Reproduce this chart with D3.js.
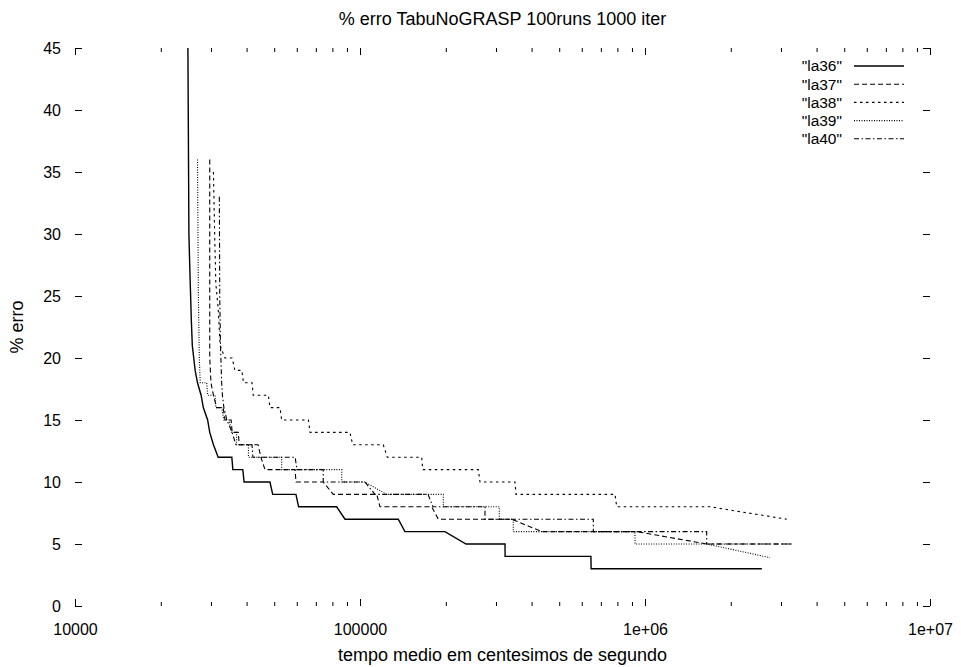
<!DOCTYPE html>
<html>
<head>
<meta charset="utf-8">
<script src="https://cdn.jsdelivr.net/npm/d3@7"></script>
<style>
body { margin: 0; background: #fff; }
svg text { font-family: "Liberation Sans", Arial, Helvetica, sans-serif; }
</style>
</head>
<body>
<div id="chart"></div>
<script>
// average time (centesimos de segundo) vs % erro
var la36 = [[24900,45],[25100,30],[25300,27],[25600,23],[25800,21],[26400,19],[26900,18],[27700,17],[28200,16],[29200,15],[29700,14],[30600,13],[31800,12],[35500,12],[35800,11],[38800,11],[39200,10],[48300,10],[49400,9],[59600,9],[60900,8],[82800,8],[88600,7],[136200,7],[143800,6],[198700,6],[235500,5],[322700,5],[323000,4],[646000,4],[647000,3],[2570000,3]];
var la37 = [[29700,36],[29700,20],[30000,18],[30600,17],[31400,16],[33100,16],[33600,15],[35300,15],[35600,14],[37400,14],[37700,13],[43900,13],[44900,12],[46400,11],[59200,11],[59600,10],[74300,10],[80600,9],[114500,9],[117500,8],[178500,8],[188300,7],[340600,7],[434000,6],[935000,6],[1646000,5],[3272000,5]];
var la38 = [[30600,35],[30900,30],[31200,26],[31800,24],[32300,21],[33600,20],[35600,20],[36400,19],[38500,19],[39000,18],[41800,18],[42200,17],[47700,17],[48300,16],[52400,16],[53100,15],[65900,15],[66800,14],[92200,14],[94300,13],[120700,13],[124700,12],[164600,12],[166000,11],[260100,11],[263700,10],[349800,10],[352700,9],[784800,9],[795600,8],[1690000,8],[3142000,7]];
var la39 = [[26900,36],[27100,25],[27300,20],[27500,18],[29000,18],[29200,17],[31000,17],[31200,16],[32700,16],[33300,15],[34700,15],[35500,14],[36900,14],[36900,13],[40600,13],[40600,12],[53100,12],[53100,11],[86300,11],[86300,10],[104100,10],[124100,9],[196000,9],[196000,8],[308200,8],[308200,7],[345000,7],[345000,6],[922400,6],[922400,5],[1646000,5],[2746000,3.9]];
var la40 = [[32100,33],[32200,25],[32400,21],[32700,18],[32900,17],[33300,16],[34100,15],[35600,14],[36700,13],[41800,13],[42100,12],[59200,12],[60100,11],[74300,11],[74300,10],[104100,10],[112900,9],[173200,9],[180300,8],[274500,8],[274500,7],[658600,7],[658600,6],[1646000,6],[1646000,5],[3272000,5]];

var seriesNames = ['"la36"', '"la37"', '"la38"', '"la39"', '"la40"'];
var seriesData = [la36, la37, la38, la39, la40];
var dashes = [null, "5,3", "2.5,3.5", "1,1.5", "5,2.5,1.5,2.5"];

var xMajorTicks = [10000, 100000, 1000000, 10000000];
var xTickLabels = ["10000", "100000", "1e+06", "1e+07"];
var yTicks = [0, 5, 10, 15, 20, 25, 30, 35, 40, 45];

var width = 961, height = 667;
var margin = {top: 48, right: 31, bottom: 61, left: 75};
var w = width - margin.left - margin.right;
var h = height - margin.top - margin.bottom;
var tickFont = 16, titleFont = 18, legendFont = 15.5;

var svg = d3.select("#chart")
  .append("svg")
  .attr("width", width)
  .attr("height", height);

var g = svg.append("g")
  .attr("transform", "translate(" + margin.left + "," + margin.top + ")");

var x = d3.scaleLog().domain([10000, 10000000]).range([0, w]);
var y = d3.scaleLinear().domain([0, 45]).range([h, 0]);

// minor ticks 2..9 in each decade
var xMinor = [];
[10000, 100000, 1000000].forEach(function(d) {
  for (var k = 2; k <= 9; k++) xMinor.push(d * k);
});

function styleAxis(sel) {
  sel.select(".domain").remove();
  sel.attr("font-size", tickFont).attr("font-family", null);
  sel.selectAll("text").attr("fill", "#000");
}

// bottom
g.append("g")
  .attr("transform", "translate(0," + h + ")")
  .call(d3.axisBottom(x).tickValues(xMajorTicks).tickFormat(function(d, i) { return xTickLabels[i]; })
    .tickSize(-7).tickPadding(18))
  .call(styleAxis);
g.append("g")
  .attr("transform", "translate(0," + h + ")")
  .call(d3.axisBottom(x).tickValues(xMinor).tickFormat("").tickSize(-4))
  .call(styleAxis);
// top (mirror)
g.append("g")
  .call(d3.axisTop(x).tickValues(xMajorTicks).tickFormat("").tickSize(-7))
  .call(styleAxis);
g.append("g")
  .call(d3.axisTop(x).tickValues(xMinor).tickFormat("").tickSize(-4))
  .call(styleAxis);
// left
g.append("g")
  .call(d3.axisLeft(y).tickValues(yTicks).tickSize(-7).tickPadding(14))
  .call(styleAxis);
// right (mirror)
g.append("g")
  .attr("transform", "translate(" + w + ",0)")
  .call(d3.axisRight(y).tickValues(yTicks).tickFormat("").tickSize(-7))
  .call(styleAxis);

// curves
var line = d3.line()
  .x(function(d) { return x(d[0]); })
  .y(function(d) { return y(d[1]); });

seriesData.forEach(function(data, i) {
  g.append("path")
    .datum(data)
    .attr("fill", "none")
    .attr("stroke", "#000")
    .attr("stroke-width", i === 0 ? 1.4 : 1.1)
    .attr("stroke-dasharray", dashes[i])
    .attr("d", line);
});

// legend
var legend = g.append("g").attr("transform", "translate(" + (w - 88) + ",18)");
seriesNames.forEach(function(name, i) {
  legend.append("text")
    .attr("x", 0)
    .attr("y", i * 18.2)
    .attr("dy", "0.35em")
    .attr("text-anchor", "end")
    .attr("font-size", legendFont)
    .text(name);
  legend.append("line")
    .attr("x1", 12).attr("x2", 62)
    .attr("y1", i * 18.2).attr("y2", i * 18.2)
    .attr("stroke", "#000")
    .attr("stroke-width", i === 0 ? 1.4 : 1.1)
    .attr("stroke-dasharray", dashes[i]);
});

// titles
svg.append("text")
  .attr("x", margin.left + w / 2)
  .attr("y", 25)
  .attr("text-anchor", "middle")
  .attr("font-size", titleFont)
  .text("% erro TabuNoGRASP 100runs 1000 iter");

svg.append("text")
  .attr("x", margin.left + w / 2)
  .attr("y", 661)
  .attr("text-anchor", "middle")
  .attr("font-size", titleFont)
  .text("tempo medio em centesimos de segundo");

svg.append("text")
  .attr("transform", "translate(23," + (margin.top + h / 2) + ") rotate(-90)")
  .attr("text-anchor", "middle")
  .attr("font-size", titleFont)
  .text("% erro");
</script>
</body>
</html>
